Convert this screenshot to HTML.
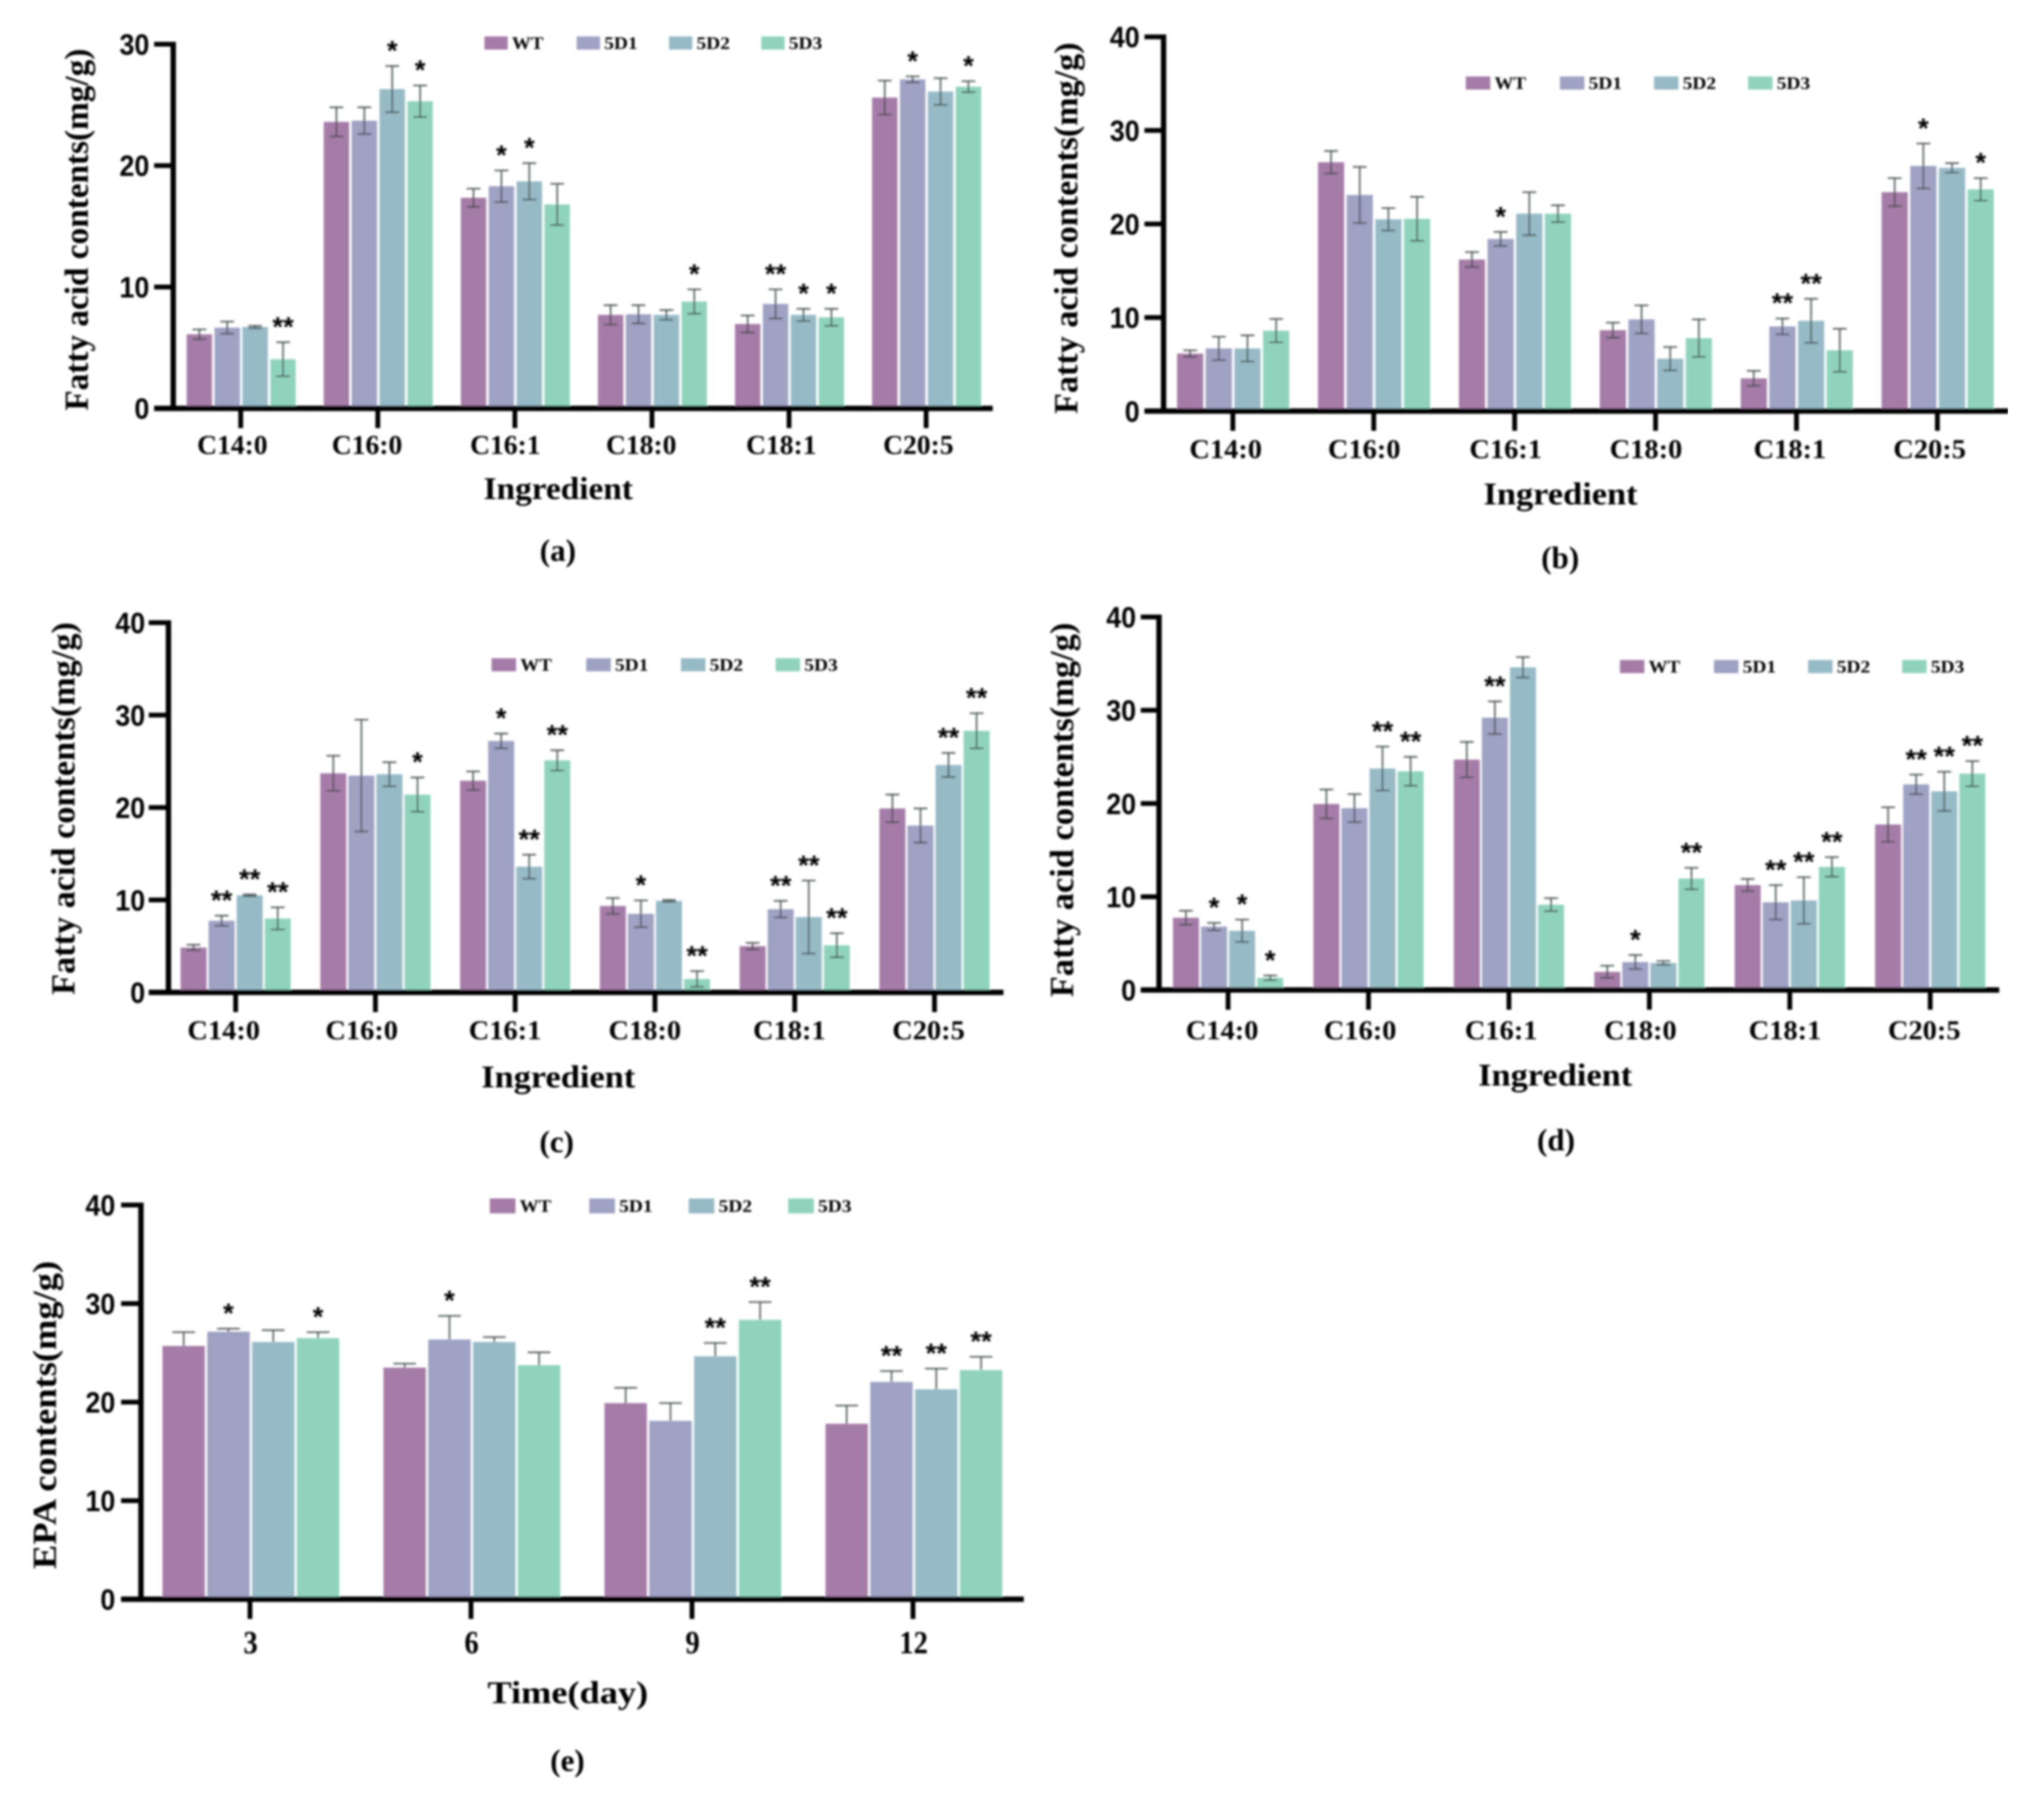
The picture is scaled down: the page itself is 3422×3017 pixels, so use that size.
<!DOCTYPE html>
<html lang="en">
<head>
<meta charset="utf-8">
<title>Fatty acid contents</title>
<style>
html,body{margin:0;padding:0;background:#fff;}
svg{display:block;}
text{fill:#000;}
</style>
</head>
<body>
<svg id="chart" xmlns="http://www.w3.org/2000/svg" width="3422" height="3017" viewBox="0 0 3422 3017">
<defs><filter id="soft" x="0" y="0" width="100%" height="100%" filterUnits="objectBoundingBox"><feGaussianBlur stdDeviation="1.8"/></filter></defs>
<rect x="0" y="0" width="3422" height="3017" fill="#fff"/>
<g id="root" filter="url(#soft)"></g>
</svg>
<script>
// ---------- shared data ----------
const ingredientCategories = ["C14:0","C16:0","C16:1","C18:0","C18:1","C20:5"];
const dayCategories = ["3","6","9","12"];
const seriesNames = ["WT","5D1","5D2","5D3"];
const yTicksA = [0,10,20,30];
const yTicksOther = [0,10,20,30,40];

// ---------- panel a ----------
const aWT  = [6.1,23.6,17.35,7.7,6.95,25.6];
const aD1  = [6.65,23.7,18.3,7.75,8.6,27.1];
const aD2  = [6.7,26.3,18.7,7.7,7.7,26.1];
const aD3  = [4.05,25.3,16.8,8.8,7.5,26.5];
const aWTerr = [0.4,1.2,0.75,0.8,0.7,1.4];
const aD1err = [0.5,1.1,1.3,0.75,1.2,0.25];
const aD2err = [0.1,1.9,1.5,0.4,0.5,1.1];
const aD3err = [1.4,1.3,1.7,1.0,0.7,0.45];
const aWTsig = ["","","","","",""];
const aD1sig = ["","","*","","**","*"];
const aD2sig = ["","*","*","","*",""];
const aD3sig = ["**","*","","*","*","*"];

// ---------- panel b ----------
const bWT  = [6.15,26.6,16.2,8.65,3.5,23.4];
const bD1  = [6.7,23.1,18.4,9.8,9.05,26.2];
const bD2  = [6.7,20.5,21.1,5.6,9.65,26.0];
const bD3  = [8.6,20.55,21.1,7.8,6.5,23.7];
const bWTerr = [0.35,1.2,0.8,0.8,0.8,1.5];
const bD1err = [1.25,3.0,0.75,1.5,0.85,2.4];
const bD2err = [1.4,1.2,2.3,1.25,2.35,0.5];
const bD3err = [1.25,2.35,0.9,2.0,2.3,1.2];
const bWTsig = ["","","","","",""];
const bD1sig = ["","","*","","**","*"];
const bD2sig = ["","","","","**",""];
const bD3sig = ["","","","","","*"];

// ---------- panel c ----------
const cWT  = [4.85,23.7,22.9,9.35,5.0,19.9];
const cD1  = [7.75,23.45,27.2,8.5,9.0,18.05];
const cD2  = [10.5,23.6,13.6,9.9,8.15,24.6];
const cD3  = [8.0,21.4,25.1,1.45,5.1,28.3];
const cWTerr = [0.3,1.9,1.0,0.85,0.35,1.5];
const cD1err = [0.55,6.05,0.8,1.45,0.9,1.85];
const cD2err = [0.1,1.3,1.3,0.1,3.95,1.3];
const cD3err = [1.2,1.85,1.1,0.85,1.3,1.9];
const cWTsig = ["","","","","",""];
const cD1sig = ["**","","*","*","**",""];
const cD2sig = ["**","","**","","**","**"];
const cD3sig = ["**","*","**","**","**","**"];

// ---------- panel d ----------
const dWT  = [7.75,19.95,24.7,1.95,11.25,17.75];
const dD1  = [6.8,19.5,29.2,3.0,9.4,22.05];
const dD2  = [6.35,23.75,34.6,2.9,9.6,21.3];
const dD3  = [1.3,23.45,9.15,11.95,13.2,23.2];
const dWTerr = [0.75,1.55,1.9,0.65,0.65,1.85];
const dD1err = [0.4,1.5,1.75,0.75,1.85,1.05];
const dD2err = [1.2,2.35,1.1,0.2,2.5,2.1];
const dD3err = [0.25,1.55,0.7,1.15,1.05,1.35];
const dWTsig = ["","","","","",""];
const dD1sig = ["*","","**","*","**","**"];
const dD2sig = ["*","**","","","**","**"];
const dD3sig = ["*","**","","**","**","**"];

// ---------- panel e ----------
const eWT  = [25.7,23.5,19.9,17.8];
const eD1  = [27.15,26.35,18.1,22.05];
const eD2  = [26.1,26.1,24.65,21.3];
const eD3  = [26.5,23.75,28.35,23.25];
const eWTerr = [1.4,0.4,1.55,1.85];
const eD1err = [0.3,2.4,1.8,1.1];
const eD2err = [1.2,0.5,1.35,2.1];
const eD3err = [0.6,1.3,1.8,1.35];
const eWTsig = ["","","",""];
const eD1sig = ["*","*","","**"];
const eD2sig = ["","","**","**"];
const eD3sig = ["*","","**","**"];

const seriesColors = ["#a57ca7","#9ea2c3","#96bac6","#90d3bd"];
const SANS = '"Liberation Sans", sans-serif';
const SERIF = '"Liberation Serif", serif';
const root = document.getElementById('root');

function mk(parent, tag, attrs, txt){
  const el = document.createElementNS('http://www.w3.org/2000/svg', tag);
  for (const k in attrs) el.setAttribute(k, attrs[k]);
  if (txt !== undefined) el.textContent = txt;
  parent.appendChild(el);
  return el;
}

function drawPanel(p){
  const g = mk(root,'g',{});
  
  

  const yScale = v => p.y0 - v * (p.y0 - p.yTop) / p.yMax;
  const xCenter = i => p.tick0 + i * p.tickStep;
  const n = seriesNames.length;

  // bars + error bars
  p.values.forEach((vals, s) => {
    vals.forEach((v, i) => {
      const cx = p.groupOffset + xCenter(i) + (s - (n - 1) / 2) * p.pitch;
      const bar = mk(g,'rect',{x:cx - p.barW / 2, y:yScale(v), width:p.barW, height:p.y0 - yScale(v), fill:seriesColors[s]});
      
      

      const e = p.errors[s][i];
      const top = yScale(v + e);
      const low = p.upperOnly ? yScale(v) : yScale(v - e);
      const stroke = {stroke:'#3f4a4a', 'stroke-opacity':0.85, 'stroke-width':2.8};
      const stem = mk(g,'line',Object.assign({x1:cx, x2:cx, y1:top, y2:low}, stroke));
      
      
      const cap = mk(g,'line',Object.assign({x1:cx - p.capW / 2, x2:cx + p.capW / 2, y1:top, y2:top}, stroke));
      
      
      if (!p.upperOnly) {
        const capLow = mk(g,'line',Object.assign({x1:cx - p.capW / 2, x2:cx + p.capW / 2, y1:low, y2:low}, stroke));
        
        
      }

      const mark = p.sig[s][i];
      if (mark) {
        const star = mk(g,'text',{x:cx, y:top - 10, 'text-anchor':'middle', 'font-family':SANS, 'font-weight':'bold', 'font-size':46}, mark);
        
        
      }
    });
  });

  // axes
  const yAxis = mk(g,'line',{x1:p.axisX, x2:p.axisX, y1:p.yTop - 4, y2:p.y0 + 4, stroke:'#000', 'stroke-width':9});
  
  
  const xAxis = mk(g,'line',{x1:p.axisL, x2:p.axisR, y1:p.y0, y2:p.y0, stroke:'#000', 'stroke-width':9});
  
  

  p.yTicks.forEach(t => {
    const y = yScale(t);
    const tick = mk(g,'line',{x1:p.axisL, x2:p.axisX, y1:y, y2:y, stroke:'#000', 'stroke-width':8});
    
    
    const label = mk(g,'text',{x:p.yLabelR, y:y + 17.5, 'text-anchor':'end', 'font-family':SANS, 'font-weight':'bold', 'font-size':49, textLength: t === 0 ? 25 : 50, lengthAdjust:'spacingAndGlyphs'}, String(t));
    
    
  });

  p.categories.forEach((c, i) => {
    const x = xCenter(i);
    const tick = mk(g,'line',{x1:x, x2:x, y1:p.y0, y2:p.y0 + 33, stroke:'#000', 'stroke-width':8});
    
    
    const label = mk(g,'text',{x:x + p.xLabelDx[i], y:p.xLabelY, 'text-anchor':'middle', 'font-family':SERIF, 'font-weight':'bold', 'font-size':p.xLabelFont, textLength:p.xLabelLen * c.length, lengthAdjust:'spacingAndGlyphs'}, c);
    
    
  });

  // titles
  const xTitle = mk(g,'text',{x:p.xTitleX, y:p.xTitleY, 'text-anchor':'middle', 'font-family':SERIF, 'font-weight':'bold', 'font-size':53, textLength:p.xTitleW, lengthAdjust:'spacingAndGlyphs'}, p.xTitle);
  
  
  const yTitle = mk(g,'text',{transform:'translate(' + p.yTitleX + ' ' + p.yTitleC + ') rotate(-90)', x:0, y:0, 'text-anchor':'middle', 'font-family':SERIF, 'font-weight':'bold', 'font-size':56, textLength:p.yTitleW, lengthAdjust:'spacingAndGlyphs'}, p.yTitle);
  
  
  const cap = mk(g,'text',{x:p.capX, y:p.capY, 'text-anchor':'middle', 'font-family':SERIF, 'font-weight':'bold', 'font-size':52}, '(' + p.id + ')');
  
  

  // legend
  seriesNames.forEach((name, s) => {
    const lx = p.legX + s * p.legStep;
    const sw = mk(g,'rect',{x:lx, y:p.legY - p.legH / 2, width:p.legW, height:p.legH, fill:seriesColors[s]});
    
    
    const t = mk(g,'text',{x:lx + p.legW + 7, y:p.legY + 10, 'font-family':SERIF, 'font-weight':'bold', 'font-size':30, textLength:s === 0 ? 53 : 56, lengthAdjust:'spacingAndGlyphs'}, name);
    
    
  });
}

drawPanel({id:'a', categories:ingredientCategories, yTicks:yTicksA, yMax:30, y0:683.7, yTop:74,
  axisX:290, axisL:258, axisR:1662, tick0:403, tickStep:229.5, pitch:46.7, barW:42.5, capW:23, groupOffset:0.8,
  yLabelR:250, xLabelDx:[-14,-18,-16,-18,-13,-13], xLabelY:760, xLabelFont:46, xLabelLen:23.6,
  xTitle:'Ingredient', xTitleX:934.6, xTitleY:835.6, xTitleW:250,
  yTitle:'Fatty acid contents(mg/g)', yTitleX:147, yTitleC:384.5, yTitleW:606,
  capX:934, capY:939,
  legX:811, legStep:154.5, legY:72, legW:39, legH:22,
  values:[aWT,aD1,aD2,aD3], errors:[aWTerr,aD1err,aD2err,aD3err], sig:[aWTsig,aD1sig,aD2sig,aD3sig]});

drawPanel({id:'b', categories:ingredientCategories, yTicks:yTicksOther, yMax:40, y0:688.3, yTop:61.7,
  axisX:1948, axisL:1916, axisR:3362, tick0:2064, tickStep:235.9, pitch:48, barW:43.8, capW:23, groupOffset:0.5,
  yLabelR:1908, xLabelDx:[-12,-16,-15,-16,-11,-13], xLabelY:767, xLabelFont:46, xLabelLen:24.3,
  xTitle:'Ingredient', xTitleX:2612.6, xTitleY:844.6, xTitleW:258,
  yTitle:'Fatty acid contents(mg/g)', yTitleX:1803.6, yTitleC:382, yTitleW:622,
  capX:2612, capY:951,
  legX:2454, legStep:157.5, legY:139, legW:41, legH:22,
  values:[bWT,bD1,bD2,bD3], errors:[bWTerr,bD1err,bD2err,bD3err], sig:[bWTsig,bD1sig,bD2sig,bD3sig]});

drawPanel({id:'c', categories:ingredientCategories, yTicks:yTicksOther, yMax:40, y0:1661.5, yTop:1042.5,
  axisX:282, axisL:249, axisR:1680, tick0:394.5, tickStep:234, pitch:47, barW:43.5, capW:23, groupOffset:0,
  yLabelR:243, xLabelDx:[-20,-23,-17,-17,-9,-10], xLabelY:1740, xLabelFont:46, xLabelLen:24.3,
  xTitle:'Ingredient', xTitleX:934.6, xTitleY:1820.6, xTitleW:258,
  yTitle:'Fatty acid contents(mg/g)', yTitleX:124.6, yTitleC:1353.6, yTitleW:624,
  capX:932, capY:1929,
  legX:823, legStep:158.5, legY:1113, legW:41, legH:22,
  values:[cWT,cD1,cD2,cD3], errors:[cWTerr,cD1err,cD2err,cD3err], sig:[cWTsig,cD1sig,cD2sig,cD3sig]});

drawPanel({id:'d', categories:ingredientCategories, yTicks:yTicksOther, yMax:40, y0:1657.5, yTop:1033,
  axisX:1940.4, axisL:1909.8, axisR:3347, tick0:2056, tickStep:235.1, pitch:47, barW:43.5, capW:23, groupOffset:0,
  yLabelR:1902, xLabelDx:[-10,-14,-13,-15,-8,-10], xLabelY:1740, xLabelFont:46, xLabelLen:24.3,
  xTitle:'Ingredient', xTitleX:2603.6, xTitleY:1817.6, xTitleW:258,
  yTitle:'Fatty acid contents(mg/g)', yTitleX:1796.6, yTitleC:1356, yTitleW:627,
  capX:2605, capY:1926,
  legX:2712, legStep:157.5, legY:1116, legW:41, legH:22,
  values:[dWT,dD1,dD2,dD3], errors:[dWTerr,dD1err,dD2err,dD3err], sig:[dWTsig,dD1sig,dD2sig,dD3sig]});

drawPanel({id:'e', categories:dayCategories, yTicks:yTicksOther, yMax:40, y0:2677.5, yTop:2017.5, upperOnly:true,
  axisX:236, axisL:202.7, axisR:1714, tick0:418.5, tickStep:370, pitch:75, barW:71, capW:38, groupOffset:1.5,
  yLabelR:193, xLabelDx:[1,1,1,1], xLabelY:2768, xLabelFont:54, xLabelLen:24,
  xTitle:'Time(day)', xTitleX:950.6, xTitleY:2851.6, xTitleW:269,
  yTitle:'EPA contents(mg/g)', yTitleX:93.6, yTitleC:2369, yTitleW:516,
  capX:950, capY:2965,
  legX:820, legStep:166.5, legY:2019, legW:43, legH:25,
  values:[eWT,eD1,eD2,eD3], errors:[eWTerr,eD1err,eD2err,eD3err], sig:[eWTsig,eD1sig,eD2sig,eD3sig]});
</script>
</body>
</html>
